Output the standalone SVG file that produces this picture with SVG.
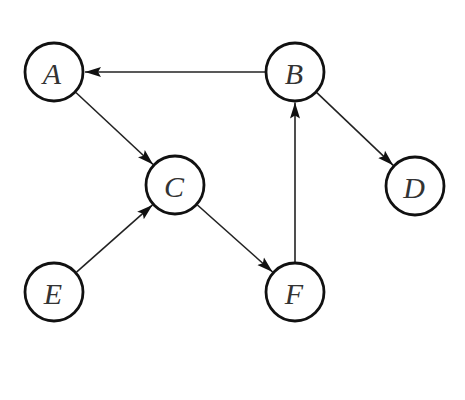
<svg xmlns="http://www.w3.org/2000/svg" width="465" height="400" viewBox="0 0 465 400">
<defs>
<marker id="ah" markerUnits="userSpaceOnUse" markerWidth="18" markerHeight="12" refX="16" refY="6" orient="auto">
<path d="M0,1 L16,6 L0,11 L3,6 z" fill="#111"/>
</marker>
<style>
.n circle{fill:#fff;stroke:#111;stroke-width:2.8}
.n text{font-family:"Liberation Serif","DejaVu Serif",serif;font-style:italic;font-size:30px;fill:#333;text-anchor:middle;dominant-baseline:central}
.e line{stroke:#222;stroke-width:1.6;marker-end:url(#ah)}
</style>
</defs>
<rect width="465" height="400" fill="#fff"/>
<g id="edges" class="e">
<line x1="265" y1="72" x2="85" y2="72"/>
<line x1="75.9" y1="92.5" x2="153.1" y2="164.5"/>
<line x1="76.5" y1="272.1" x2="152.5" y2="204.9"/>
<line x1="197.4" y1="205" x2="272.6" y2="272"/>
<line x1="295" y1="262" x2="295" y2="102.5"/>
<line x1="316.8" y1="92.7" x2="393.2" y2="165.3"/>
</g>
<g id="A" class="n"><circle cx="54" cy="72" r="29"/><text x="52" y="73">A</text></g>
<g id="B" class="n"><circle cx="295" cy="72" r="29"/><text x="294" y="73">B</text></g>
<g id="C" class="n"><circle cx="175" cy="185" r="29"/><text x="174" y="186">C</text></g>
<g id="D" class="n"><circle cx="415" cy="186" r="29"/><text x="414" y="187">D</text></g>
<g id="E" class="n"><circle cx="54" cy="292" r="29"/><text x="53" y="293">E</text></g>
<g id="F" class="n"><circle cx="295" cy="292" r="29"/><text x="294" y="293">F</text></g>
</svg>
